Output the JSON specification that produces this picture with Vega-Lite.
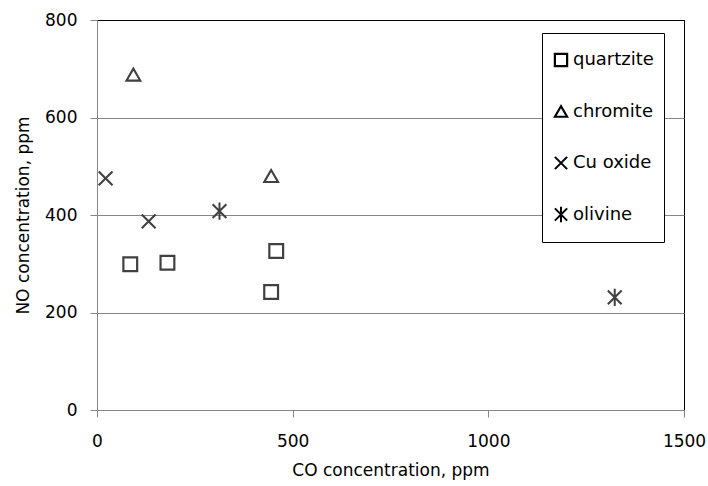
{
  "$schema": "https://vega.github.io/schema/vega-lite/v6.json",
  "width": 587,
  "height": 390,
  "autosize": "none",
  "padding": {"left": 97, "top": 20, "right": 24, "bottom": 76},
  "background": "white",
  "config": {
    "view": {"stroke": "black", "strokeWidth": 1},
    "font": "DejaVu Sans"
  },
  "data": {
    "values": [
      {"material": "quartzite", "co": 85, "no": 299},
      {"material": "quartzite", "co": 180, "no": 302},
      {"material": "quartzite", "co": 458, "no": 326},
      {"material": "quartzite", "co": 445, "no": 242},
      {"material": "chromite", "co": 93, "no": 688},
      {"material": "chromite", "co": 445, "no": 480},
      {"material": "Cu oxide", "co": 22, "no": 475},
      {"material": "Cu oxide", "co": 132, "no": 387},
      {"material": "olivine", "co": 313, "no": 408},
      {"material": "olivine", "co": 1323, "no": 231}
    ]
  },
  "mark": {"type": "point", "filled": false, "opacity": 1, "stroke": "#404040", "size": 190},
  "encoding": {
    "x": {
      "field": "co",
      "type": "quantitative",
      "scale": {"domain": [0, 1500], "nice": false, "zero": false},
      "axis": {
        "title": "CO concentration, ppm",
        "values": [0, 500, 1000, 1500],
        "format": "d",
        "grid": false,
        "tickSize": 7,
        "tickColor": "#868686",
        "domainColor": "#868686",
        "labelFontSize": 17,
        "labelColor": "#000000",
        "labelPadding": 16,
        "labelFlush": false,
        "titleFontSize": 17,
        "titleFontWeight": "normal",
        "titleColor": "#000000",
        "titlePadding": 13
      }
    },
    "y": {
      "field": "no",
      "type": "quantitative",
      "scale": {"domain": [0, 800], "nice": false},
      "axis": {
        "title": "NO concentration, ppm",
        "values": [0, 200, 400, 600, 800],
        "format": "d",
        "grid": true,
        "gridColor": {"condition": {"test": "datum.value == 800", "value": "#000000"}, "value": "#868686"},
        "gridOpacity": 1,
        "tickSize": 7,
        "tickColor": "#868686",
        "domainColor": "#868686",
        "labelFontSize": 17,
        "labelColor": "#000000",
        "labelPadding": 13,
        "labelFlush": false,
        "titleFontSize": 17,
        "titleFontWeight": "normal",
        "titleColor": "#000000",
        "titlePadding": 12
      }
    },
    "shape": {
      "field": "material",
      "type": "nominal",
      "scale": {
        "domain": ["quartzite", "chromite", "Cu oxide", "olivine"],
        "range": ["square", "triangle-up", "M-1,-1L1,1M-1,1L1,-1", "M-1,-1L1,1M-1,1L1,-1M0,-1.25L0,1.25"]
      },
      "legend": {
        "title": null,
        "orient": "none",
        "legendX": 445,
        "legendY": 13,
        "padding": 10,
        "clipHeight": 34,
        "rowPadding": 17.5,
        "strokeColor": "#000000",
        "fillColor": "#ffffff",
        "symbolSize": 150,
        "symbolStrokeColor": "#000000",
        "symbolStrokeWidth": 1.5,
        "symbolFillColor": "transparent",
        "labelFontSize": 18,
        "labelColor": "#000000",
        "labelOffset": 3
      }
    },
    "strokeWidth": {
      "field": "material",
      "type": "nominal",
      "scale": {
        "domain": ["quartzite", "chromite", "Cu oxide", "olivine"],
        "range": [2.2, 2, 1.3, 1.5]
      },
      "legend": null
    }
  }
}
